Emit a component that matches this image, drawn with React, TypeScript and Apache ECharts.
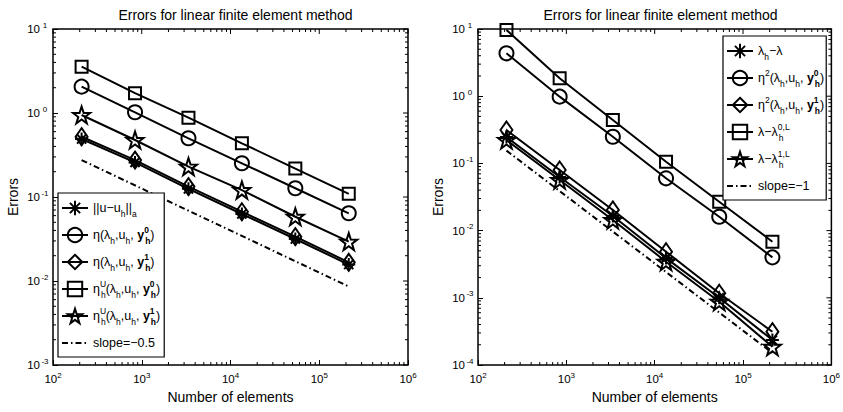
import React, { useEffect, useRef } from 'react';
import * as echarts from 'echarts';

const FONT = '"Liberation Sans", Arial, Helvetica, sans-serif';
const TITLE = 'Errors for linear finite element method';

// number of elements (x values, shared by both panels)
const elements = [210, 840, 3360, 13440, 53760, 215040];

// left panel series
const leftEnergyErr = [0.49, 0.258, 0.125, 0.0628, 0.0316, 0.0157];
const leftEtaY0 = [2.06, 1.02, 0.5, 0.252, 0.127, 0.064];
const leftEtaY1 = [0.522, 0.275, 0.133, 0.0668, 0.0337, 0.0167];
const leftEtaUY0 = [3.56, 1.72, 0.879, 0.436, 0.218, 0.109];
const leftEtaUY1 = [0.947, 0.477, 0.23, 0.121, 0.0582, 0.0294];
const leftSlopeX = [210, 215040];
const leftSlopeY = [0.275, 0.0086];

// right panel series
const rightEigErr = [0.247, 0.0628, 0.0165, 0.0039, 0.001, 0.000235];
const rightEta2Y0 = [4.35, 0.984, 0.249, 0.06, 0.0161, 0.004];
const rightEta2Y1 = [0.314, 0.0798, 0.0203, 0.00485, 0.00117, 0.000313];
const rightLam0L = [9.66, 1.85, 0.442, 0.106, 0.0269, 0.00684];
const rightLam1L = [0.223, 0.0566, 0.0144, 0.00344, 0.000875, 0.000187];
const rightSlopeX = [210, 215040];
const rightSlopeY = [0.155, 0.000151];

// tick exponents
const xTickExponents = [2, 3, 4, 5, 6];
const leftYTickExponents = [-3, -2, -1, 0, 1];
const rightYTickExponents = [-4, -3, -2, -1, 0, 1];

function pentagram(): string {
  let d = '';
  for (let i = 0; i < 10; i++) {
    const r = i % 2 === 0 ? 10 : 3.9;
    const a = ((-90 + i * 36) * Math.PI) / 180;
    const x = (r * Math.cos(a)).toFixed(3);
    const y = (r * Math.sin(a)).toFixed(3);
    d += (i === 0 ? 'M' : 'L') + x + ',' + y;
  }
  return 'path://' + d + 'Z';
}
const STAR = pentagram();
const ASTERISK =
  'path://M0,-10L0,10M-10,0L10,0M-7.07,-7.07L7.07,7.07M-7.07,7.07L7.07,-7.07';

const legendLabels: Record<string, string> = {
  energy: '||u\u2212u{sub|h}||{sub|a}',
  etaY0: '\u03b7(\u03bb{sub|h},u{sub|h}, {by|y}{bsupw|0}{bsub|h}{n|)}',
  etaY1: '\u03b7(\u03bb{sub|h},u{sub|h}, {by|y}{bsupw|1}{bsub|h}{n|)}',
  etaUY0: '\u03b7{supw|U}{sub|h}(\u03bb{sub|h},u{sub|h}, {by|y}{bsupw|0}{bsub|h}{n|)}',
  etaUY1: '\u03b7{supw|U}{sub|h}(\u03bb{sub|h},u{sub|h}, {by|y}{bsupw|1}{bsub|h}{n|)}',
  slopeL: 'slope=\u22120.5',
  eig: '\u03bb{sub|h}\u2212\u03bb',
  eta2Y0: '\u03b7{sup|2}(\u03bb{sub|h},u{sub|h}, {by|y}{bsupw|0}{bsub|h}{n|)}',
  eta2Y1: '\u03b7{sup|2}(\u03bb{sub|h},u{sub|h}, {by|y}{bsupw|1}{bsub|h}{n|)}',
  lam0L: '\u03bb\u2212\u03bb{supw|0,L}{sub|h}',
  lam1L: '\u03bb\u2212\u03bb{supw|1,L}{sub|h}',
  slopeR: 'slope=\u22121',
};

const LFS = 12.5;
const SFS = 8.5;
const legendRich: any = {
  n: { fontSize: LFS, fontFamily: FONT, color: '#000' },
  by: { fontSize: LFS, fontFamily: FONT, fontWeight: 'bold', color: '#000' },
  sub: { fontSize: SFS, fontFamily: FONT, verticalAlign: 'bottom', color: '#000' },
  sup: { fontSize: SFS, fontFamily: FONT, verticalAlign: 'top', color: '#000' },
  supw: { fontSize: SFS, fontFamily: FONT, verticalAlign: 'top', width: 1, color: '#000' },
  bsub: { fontSize: SFS, fontFamily: FONT, fontWeight: 'bold', verticalAlign: 'bottom', color: '#000' },
  bsupw: { fontSize: SFS, fontFamily: FONT, fontWeight: 'bold', verticalAlign: 'top', width: 1, color: '#000' },
};

const TFS = 11.5;
const xTickRich: any = {
  b: { fontSize: TFS, fontFamily: FONT, color: '#000', lineHeight: 16 },
  e: { fontSize: 8, fontFamily: FONT, color: '#000', verticalAlign: 'top' },
};
const yTickRich: any = {
  b: { fontSize: TFS, fontFamily: FONT, color: '#000', lineHeight: 16 },
  e: { fontSize: 8, fontFamily: FONT, color: '#000', verticalAlign: 'top', width: 10, align: 'left' },
};

const expOf = (v: number) => Math.round(Math.log10(v));
const tickLabel = (v: number) => `{b|10}{e|${expOf(v)}}`;

function lineSeries(
  name: string,
  ys: number[],
  symbol: string,
  size: number | number[],
  gi: number
) {
  return {
    name,
    type: 'line',
    xAxisIndex: gi,
    yAxisIndex: gi,
    data: elements.map((x, i) => [x, ys[i]]),
    symbol,
    symbolSize: size,
    showSymbol: true,
    showAllSymbol: true,
    clip: false,
    lineStyle: { color: '#000', width: 2 },
    itemStyle: { color: 'transparent', borderColor: '#000', borderWidth: 2 },
    emphasis: { disabled: true },
    z: 3,
  };
}

function slopeSeries(name: string, xs: number[], ys: number[], gi: number) {
  return {
    name,
    type: 'line',
    xAxisIndex: gi,
    yAxisIndex: gi,
    data: xs.map((x, i) => [x, ys[i]]),
    symbol: 'circle',
    showSymbol: false,
    clip: false,
    lineStyle: { color: '#000', width: 2, type: [6, 3, 1.5, 3] },
    itemStyle: { color: 'transparent', borderWidth: 0 },
    emphasis: { disabled: true },
    z: 2,
  };
}

function tickSeries(gi: number, xExps: number[], yExps: number[]) {
  return {
    type: 'custom',
    xAxisIndex: gi,
    yAxisIndex: gi,
    silent: true,
    clip: false,
    z: 1,
    data: [[Math.pow(10, xExps[0]), Math.pow(10, yExps[0])]],
    renderItem: (params: any, api: any) => {
      const cs = params.coordSys;
      const top = cs.y;
      const bottom = cs.y + cs.height;
      const left = cs.x;
      const right = cs.x + cs.width;
      const yRef = Math.pow(10, yExps[0]);
      const xRef = Math.pow(10, xExps[0]);
      const children: any[] = [];
      const seg = (x1: number, y1: number, x2: number, y2: number) =>
        children.push({
          type: 'line',
          shape: { x1, y1, x2, y2 },
          style: { stroke: '#000', lineWidth: 1 },
        });
      xExps.forEach((e, i) => {
        const px = api.coord([Math.pow(10, e), yRef])[0];
        seg(px, top, px, top + 5);
        if (i < xExps.length - 1) {
          for (let m = 2; m <= 9; m++) {
            const mx = api.coord([m * Math.pow(10, e), yRef])[0];
            seg(mx, bottom, mx, bottom - 3);
            seg(mx, top, mx, top + 3);
          }
        }
      });
      yExps.forEach((e, i) => {
        const py = api.coord([xRef, Math.pow(10, e)])[1];
        seg(right, py, right - 5, py);
        if (i < yExps.length - 1) {
          for (let m = 2; m <= 9; m++) {
            const my = api.coord([xRef, m * Math.pow(10, e)])[1];
            seg(left, my, left + 3, my);
            seg(right, my, right - 3, my);
          }
        }
      });
      return { type: 'group', children };
    },
  };
}

function xAxis(gi: number) {
  return {
    type: 'log',
    logBase: 10,
    min: Math.pow(10, xTickExponents[0]),
    max: Math.pow(10, xTickExponents[xTickExponents.length - 1]),
    gridIndex: gi,
    axisLine: { show: false },
    axisTick: { show: true, inside: true, length: 5, lineStyle: { color: '#000', width: 1 } },
    splitLine: { show: false },
    axisLabel: { margin: 6, formatter: tickLabel, rich: xTickRich, color: '#000' },
    name: 'Number of elements',
    nameLocation: 'middle',
    nameGap: 24,
    nameTextStyle: { fontSize: 14, fontFamily: FONT, color: '#000' },
  };
}

function yAxis(gi: number, exps: number[]) {
  return {
    type: 'log',
    logBase: 10,
    min: Math.pow(10, exps[0]),
    max: Math.pow(10, exps[exps.length - 1]),
    gridIndex: gi,
    axisLine: { show: false },
    axisTick: { show: true, inside: true, length: 5, lineStyle: { color: '#000', width: 1 } },
    splitLine: { show: false },
    axisLabel: { margin: 3, formatter: tickLabel, rich: yTickRich, color: '#000' },
    name: 'Errors',
    nameLocation: 'middle',
    nameGap: 33,
    nameTextStyle: { fontSize: 14, fontFamily: FONT, color: '#000' },
  };
}

function legend(left: number, top: number, names: string[], padRight: number) {
  return {
    orient: 'vertical',
    left,
    top,
    data: names,
    itemWidth: 26,
    itemHeight: 18,
    itemGap: 7,
    padding: [5, padRight, 4, 3],
    backgroundColor: '#fff',
    borderColor: '#000',
    borderWidth: 1.2,
    selectedMode: false,
    formatter: (n: string) => legendLabels[n],
    textStyle: { fontSize: LFS, fontFamily: FONT, color: '#000', lineHeight: 20, rich: legendRich },
  };
}

export default function App() {
  const ref = useRef<HTMLDivElement>(null);
  useEffect(() => {
    if (!ref.current) return;
    const chart = echarts.init(ref.current, undefined, { renderer: 'svg' });
    const grid = (left: number) => ({
      left,
      top: 29,
      width: 355,
      height: 336,
      show: true,
      borderColor: '#000',
      borderWidth: 1.5,
      backgroundColor: 'transparent',
    });
    chart.setOption({
      animation: false,
      backgroundColor: '#fff',
      title: [
        { text: TITLE, left: 230.5, top: 3, textAlign: 'center', textStyle: { fontSize: 14, fontWeight: 'normal', fontFamily: FONT, color: '#000' } },
        { text: TITLE, left: 655.5, top: 3, textAlign: 'center', textStyle: { fontSize: 14, fontWeight: 'normal', fontFamily: FONT, color: '#000' } },
      ],
      grid: [grid(53), grid(478)],
      xAxis: [xAxis(0), xAxis(1)],
      yAxis: [yAxis(0, leftYTickExponents), yAxis(1, rightYTickExponents)],
      legend: [
        legend(58, 193, ['energy', 'etaY0', 'etaY1', 'etaUY0', 'etaUY1', 'slopeL'], 4),
        legend(723, 36, ['eig', 'eta2Y0', 'eta2Y1', 'lam0L', 'lam1L', 'slopeR'], 2),
      ],
      series: [
        tickSeries(0, xTickExponents, leftYTickExponents),
        tickSeries(1, xTickExponents, rightYTickExponents),
        slopeSeries('slopeL', leftSlopeX, leftSlopeY, 0),
        lineSeries('etaUY0', leftEtaUY0, 'rect', 12, 0),
        lineSeries('etaY0', leftEtaY0, 'circle', 14, 0),
        lineSeries('etaUY1', leftEtaUY1, STAR, 17, 0),
        lineSeries('etaY1', leftEtaY1, 'diamond', [12, 17], 0),
        lineSeries('energy', leftEnergyErr, ASTERISK, 13, 0),
        slopeSeries('slopeR', rightSlopeX, rightSlopeY, 1),
        lineSeries('lam0L', rightLam0L, 'rect', 12, 1),
        lineSeries('eta2Y0', rightEta2Y0, 'circle', 14, 1),
        lineSeries('lam1L', rightLam1L, STAR, 17, 1),
        lineSeries('eta2Y1', rightEta2Y1, 'diamond', [12, 17], 1),
        lineSeries('eig', rightEigErr, ASTERISK, 13, 1),
      ],
    });
    return () => chart.dispose();
  }, []);
  return (
    <div
      ref={ref}
      style={{ position: 'fixed', left: 0, top: 0, width: 843, height: 412 }}
    />
  );
}
